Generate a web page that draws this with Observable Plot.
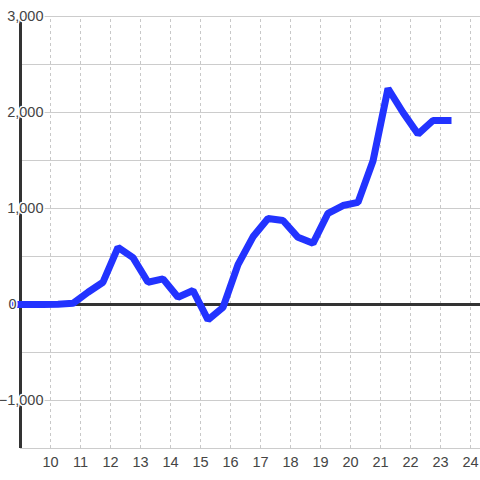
<!DOCTYPE html>
<html>
<head>
<meta charset="utf-8">
<script src="https://cdn.jsdelivr.net/npm/d3@7"></script>
<script src="https://cdn.jsdelivr.net/npm/@observablehq/plot@0.6"></script>
<style>
  html, body { margin: 0; padding: 0; background: #fff; }
  #chart { width: 480px; height: 480px; }
</style>
</head>
<body>
<div id="chart"></div>
<script>
// Series (x in units, value)
const xs = [8.75, 9.25, 9.75, 10.25, 10.75, 11.25, 11.75, 12.25, 12.75, 13.25, 13.75, 14.25, 14.75, 15.25, 15.75, 16.25, 16.75, 17.25, 17.75, 18.25, 18.75, 19.25, 19.75, 20.25, 20.75, 21.25, 21.75, 22.25, 22.75, 23.25];
const values = [0, 0, 0, 3, 12, 128, 232, 595, 488, 232, 267, 76, 146, -160, -30, 415, 705, 895, 875, 700, 637, 950, 1031, 1064, 1495, 2250, 2000, 1775, 1917, 1917];

// Ticks
const xTicks = [10, 11, 12, 13, 14, 15, 16, 17, 18, 19, 20, 21, 22, 23, 24];
const yTicks = [-1000, 0, 1000, 2000, 3000];
const yGrid = [-1500, -1000, -500, 500, 1000, 1500, 2000, 2500, 3000];

const data = xs.map((x, i) => ({x, y: values[i]}));
const fmt = d3.format(",");
const xMin = 9, xMax = 24 + 1/3, yMin = -1500, yMax = 3000;

const chart = Plot.plot({
  width: 480,
  height: 480,
  marginLeft: 20,
  marginRight: 0,
  marginTop: 16,
  marginBottom: 32,
  style: {fontFamily: "'Liberation Sans', Arial, sans-serif", fontSize: "15px", background: "#fff"},
  x: {domain: [xMin, xMax], axis: null},
  y: {domain: [yMin, yMax], axis: null},
  marks: [
    Plot.ruleY(yGrid, {y: d => d, x1: xMin, x2: xMax, stroke: "#cccccc", strokeWidth: 1}),
    Plot.ruleX(xTicks, {x: d => d, y1: yMin, y2: yMax, stroke: "#c8c8c8", strokeWidth: 1, strokeDasharray: "3,3"}),
    Plot.ruleY([0], {x1: xMin, x2: xMax, stroke: "#333", strokeWidth: 3}),
    Plot.ruleX([xMin], {y1: yMin, y2: yMax, stroke: "#333", strokeWidth: 3}),
    Plot.line(data, {x: "x", y: "y", stroke: "#2233ff", strokeWidth: 7, strokeLinecap: "square", strokeLinejoin: "miter", curve: "linear"}),
    Plot.text(yTicks.filter(d => d !== 0), {x: () => xMin, y: d => d, text: d => fmt(d), dx: 23, textAnchor: "end", fill: "#444", stroke: "#fff", strokeWidth: 3, fontSize: 14.5}),
    Plot.text(yTicks.filter(d => d === 0), {x: () => xMin, y: d => d, text: d => fmt(d), dx: -4, textAnchor: "end", fill: "#444", stroke: "#fff", strokeWidth: 3, fontSize: 14.5}),
    Plot.text(xTicks, {x: d => d, y: () => yMin, text: d => String(d), dy: 14, textAnchor: "middle", lineAnchor: "middle", fill: "#444", fontSize: 14.5})
  ]
});
document.getElementById("chart").appendChild(chart);
</script>
</body>
</html>
